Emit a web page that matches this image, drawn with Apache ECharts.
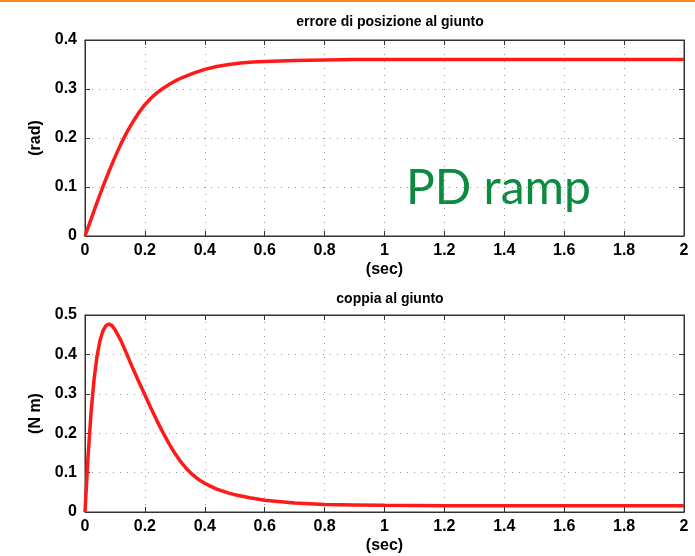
<!DOCTYPE html>
<html>
<head>
<meta charset="utf-8">
<script src="https://cdn.jsdelivr.net/npm/echarts@6/dist/echarts.min.js"></script>
<style>
  html, body { margin: 0; padding: 0; background: #fff; }
  #chart { width: 695px; height: 556px; }
</style>
</head>
<body>
<div id="chart"></div>
<script>
// errore di posizione al giunto (rad)
const tPos = [0, 0.02, 0.04, 0.06, 0.08, 0.1, 0.12, 0.14, 0.16, 0.18, 0.2, 0.22, 0.24, 0.26, 0.28, 0.3,
  0.32, 0.34, 0.36, 0.38, 0.4, 0.44, 0.48, 0.52, 0.56, 0.6, 0.7, 0.8, 0.9, 1.0, 1.5, 2.0];
const errPos = [0, 0.034, 0.068, 0.101, 0.132, 0.161, 0.188, 0.212, 0.233, 0.252, 0.268, 0.281, 0.292, 0.301, 0.309, 0.316,
  0.322, 0.327, 0.332, 0.336, 0.34, 0.346, 0.35, 0.353, 0.355, 0.356, 0.358, 0.359, 0.36, 0.36, 0.36, 0.36];
// coppia al giunto (N m)
const tTor = [0, 0.01, 0.02, 0.03, 0.04, 0.05, 0.06, 0.07, 0.08, 0.09, 0.1, 0.12, 0.14, 0.16, 0.18, 0.2,
  0.22, 0.24, 0.26, 0.28, 0.3, 0.32, 0.34, 0.36, 0.38, 0.4, 0.42, 0.44, 0.46, 0.48, 0.5,
  0.55, 0.6, 0.7, 0.8, 0.9, 1.0, 1.2, 1.5, 2.0];
const torque = [0, 0.14, 0.25, 0.335, 0.395, 0.435, 0.46, 0.473, 0.477, 0.473, 0.463, 0.435, 0.4, 0.364, 0.33, 0.297,
  0.264, 0.232, 0.202, 0.174, 0.149, 0.127, 0.109, 0.094, 0.082, 0.073, 0.065, 0.058, 0.053, 0.048, 0.044,
  0.036, 0.03, 0.023, 0.019, 0.018, 0.017, 0.016, 0.016, 0.016];

const font = "'Liberation Sans', Arial, sans-serif";
const lab = { color: '#000', fontFamily: font, fontWeight: 'bold', fontSize: 16 };
const red = '#ff1a1a';
const fmt = v => String(+v.toFixed(1));
const frame = () => ({ color: '#333', width: 1 });
const dots = () => ({ color: '#999', type: [1, 6] });

function xAx(grid) {
  return [{
    type: 'value', gridIndex: grid, position: 'bottom', min: 0, max: 2, interval: 0.2,
    name: '(sec)', nameLocation: 'middle', nameGap: 26, nameTextStyle: lab,
    axisLine: { show: true, onZero: false, lineStyle: frame() },
    axisTick: { show: true, inside: true, length: 5, lineStyle: frame() },
    axisLabel: Object.assign({}, lab, { margin: 7, formatter: fmt }),
    splitLine: { show: true, lineStyle: dots() }
  }, {
    type: 'value', gridIndex: grid, position: 'top', min: 0, max: 2, interval: 0.2,
    axisLine: { show: true, onZero: false, lineStyle: frame() },
    axisTick: { show: true, inside: true, length: 5, lineStyle: frame() },
    axisLabel: { show: true, formatter: () => '' },
    splitLine: { show: false }
  }];
}

function yAx(grid, max, name) {
  return [{
    type: 'value', gridIndex: grid, position: 'left', min: 0, max: max, interval: 0.1,
    name: name, nameLocation: 'middle', nameGap: 38, nameTextStyle: lab,
    axisLine: { show: true, onZero: false, lineStyle: frame() },
    axisTick: { show: true, inside: true, length: 5, lineStyle: frame() },
    axisLabel: Object.assign({}, lab, { margin: 8, formatter: fmt }),
    splitLine: { show: true, lineStyle: dots() }
  }, {
    type: 'value', gridIndex: grid, position: 'right', min: 0, max: max, interval: 0.1,
    axisLine: { show: true, onZero: false, lineStyle: frame() },
    axisTick: { show: true, inside: true, length: 5, lineStyle: frame() },
    axisLabel: { show: true, formatter: () => '' },
    splitLine: { show: false }
  }];
}

const chart = echarts.init(document.getElementById('chart'));
chart.setOption({
  animation: false,
  backgroundColor: '#fff',
  title: [
    { text: 'errore di posizione al giunto', left: 385, top: 10, textAlign: 'center',
      textStyle: Object.assign({}, lab, { fontSize: 14 }) },
    { text: 'coppia al giunto', left: 385, top: 287, textAlign: 'center',
      textStyle: Object.assign({}, lab, { fontSize: 14 }) }
  ],
  grid: [
    { left: 85, top: 40, width: 601, height: 196, show: true, borderColor: '#333', borderWidth: 1 },
    { left: 85, top: 315, width: 601, height: 197, show: true, borderColor: '#333', borderWidth: 1 }
  ],
  xAxis: [].concat(xAx(0), xAx(1)),
  yAxis: [].concat(yAx(0, 0.4, '(rad)'), yAx(1, 0.5, '(N m)')),
  graphic: [
    { type: 'rect', shape: { x: 0, y: 0, width: 695, height: 2 }, style: { fill: '#f28a1e' } },
    { type: 'text', x: 406, y: 189,
      style: { text: 'PD ramp', fill: '#0b8a40', verticalAlign: 'middle',
               font: "48px Lato, 'Open Sans', sans-serif" } }
  ],
  series: [
    { type: 'line', xAxisIndex: 0, yAxisIndex: 0, showSymbol: false,
      lineStyle: { color: red, width: 3.5 },
      data: tPos.map((t, i) => [t, errPos[i]]) },
    { type: 'line', xAxisIndex: 2, yAxisIndex: 2, showSymbol: false,
      lineStyle: { color: red, width: 3.5 },
      data: tTor.map((t, i) => [t, torque[i]]) }
  ]
});
</script>
</body>
</html>
